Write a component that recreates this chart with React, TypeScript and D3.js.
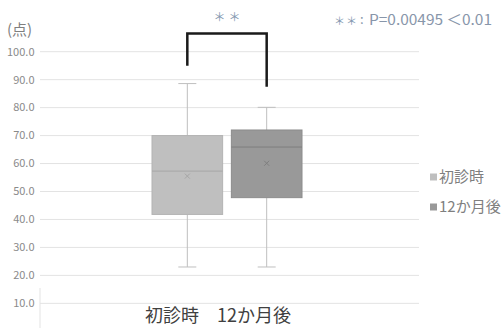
import React from "react";
import * as d3 from "d3";

const seriesNames = ["初診時", "12か月後"];
const whiskerMax = [88.6, 80.1];
const q3Values = [70.0, 72.0];
const medianValues = [57.3, 65.9];
const meanValues = [55.5, 60.1];
const q1Values = [41.8, 47.8];
const whiskerMin = [23.0, 23.0];
const yTicks = [10, 20, 30, 40, 50, 60, 70, 80, 90, 100];
const categoryLabel = "初診時　12か月後";
const bracketLeftBottom = 95;
const bracketRightBottom = 87.5;
const bracketTop = 106.5;
const sigMark = "＊＊";
const pText = "P=0.00495 ＜0.01";

const fills = ["#bfbfbf", "#999999"];
const strokes = ["#b3b3b3", "#8c8c8c"];
const medianStrokes = ["#a6a6a6", "#7f7f7f"];
const FONT = "'Noto Sans CJK JP', 'Noto Sans', sans-serif";

export default function App() {
  const W = 502, H = 328;
  const y = d3.scaleLinear().domain([0, 100]).range([331.3, 51.7]);
  const xPlot = [40, 419];
  const x = d3.scaleBand<string>().domain(seriesNames).range([152, 302]).paddingInner(0.11);
  const bw = x.bandwidth();
  const cx = (s: string) => (x(s) ?? 0) + bw / 2;
  const capHalf = 9;
  const catCenter = (cx(seriesNames[0]) + cx(seriesNames[1])) / 2;

  const bx1 = cx(seriesNames[0]);
  const bx2 = cx(seriesNames[1]);

  return (
    <svg width={W} height={H} style={{ position: "absolute", left: 0, top: 0, background: "#fff" }} fontFamily={FONT}>
      {/* gridlines */}
      {yTicks.map((t) => (
        <line key={t} x1={xPlot[0]} x2={xPlot[1]} y1={y(t)} y2={y(t)} stroke="#e3e3e3" strokeWidth={1} />
      ))}
      <line x1={xPlot[0]} x2={xPlot[0]} y1={288} y2={328} stroke="#e3e3e3" strokeWidth={1} />
      {/* y tick labels */}
      {yTicks.map((t) => (
        <text key={t} x={34.5} y={y(t)} dy="0.35em" textAnchor="end" fontSize={11} fill="#8a8a8a">
          {t.toFixed(1)}
        </text>
      ))}
      <text x={7} y={35} fontSize={15} fill="#7f7f7f">(点)</text>

      {/* boxes */}
      {seriesNames.map((s, i) => {
        const c = cx(s);
        const x0 = x(s) ?? 0;
        return (
          <g key={s}>
            <line x1={c} x2={c} y1={y(whiskerMax[i])} y2={y(q3Values[i])} stroke="#bfbfbf" strokeWidth={1} />
            <line x1={c} x2={c} y1={y(q1Values[i])} y2={y(whiskerMin[i])} stroke="#bfbfbf" strokeWidth={1} />
            <line x1={c - capHalf} x2={c + capHalf} y1={y(whiskerMax[i])} y2={y(whiskerMax[i])} stroke="#bfbfbf" strokeWidth={1} />
            <line x1={c - capHalf} x2={c + capHalf} y1={y(whiskerMin[i])} y2={y(whiskerMin[i])} stroke="#bfbfbf" strokeWidth={1} />
            <rect x={x0} y={y(q3Values[i])} width={bw} height={y(q1Values[i]) - y(q3Values[i])} fill={fills[i]} stroke={strokes[i]} strokeWidth={1} />
            <line x1={x0} x2={x0 + bw} y1={y(medianValues[i])} y2={y(medianValues[i])} stroke={medianStrokes[i]} strokeWidth={1} />
            <g stroke={medianStrokes[i]} strokeWidth={1}>
              <line x1={c - 2.5} x2={c + 2.5} y1={y(meanValues[i]) - 2.5} y2={y(meanValues[i]) + 2.5} />
              <line x1={c - 2.5} x2={c + 2.5} y1={y(meanValues[i]) + 2.5} y2={y(meanValues[i]) - 2.5} />
            </g>
          </g>
        );
      })}

      {/* significance bracket */}
      <path
        d={`M${bx1},${y(bracketLeftBottom)} V${y(bracketTop)} H${bx2} V${y(bracketRightBottom)}`}
        fill="none"
        stroke="#1a1a1a"
        strokeWidth={2.5}
      />
      <text x={(bx1 + bx2) / 2 + 1.5} y={22} textAnchor="middle" fontSize={12} letterSpacing={3} fill="#8497b0">{sigMark}</text>
      <text x={334} y={24.5} fontSize={11} letterSpacing={1} fill="#8497b0">{sigMark}</text>
      <text x={360} y={24} fontSize={13} fill="#8896aa">:</text>
      <text x={369} y={24.5} fontSize={14.5} textLength={123} lengthAdjust="spacingAndGlyphs" fill="#8896aa">{pText}</text>

      {/* category label */}
      <text x={catCenter - 9} y={322} textAnchor="middle" fontSize={18} fill="#404040">{categoryLabel}</text>

      {/* legend */}
      {seriesNames.map((s, i) => (
        <g key={s} transform={`translate(430, ${177 + i * 30})`}>
          <rect x={0} y={-3.5} width={7} height={7} fill={fills[i]} />
          <text x={9} y={0} dy="0.35em" fontSize={15} fill="#7f7f7f">{s}</text>
        </g>
      ))}
    </svg>
  );
}
